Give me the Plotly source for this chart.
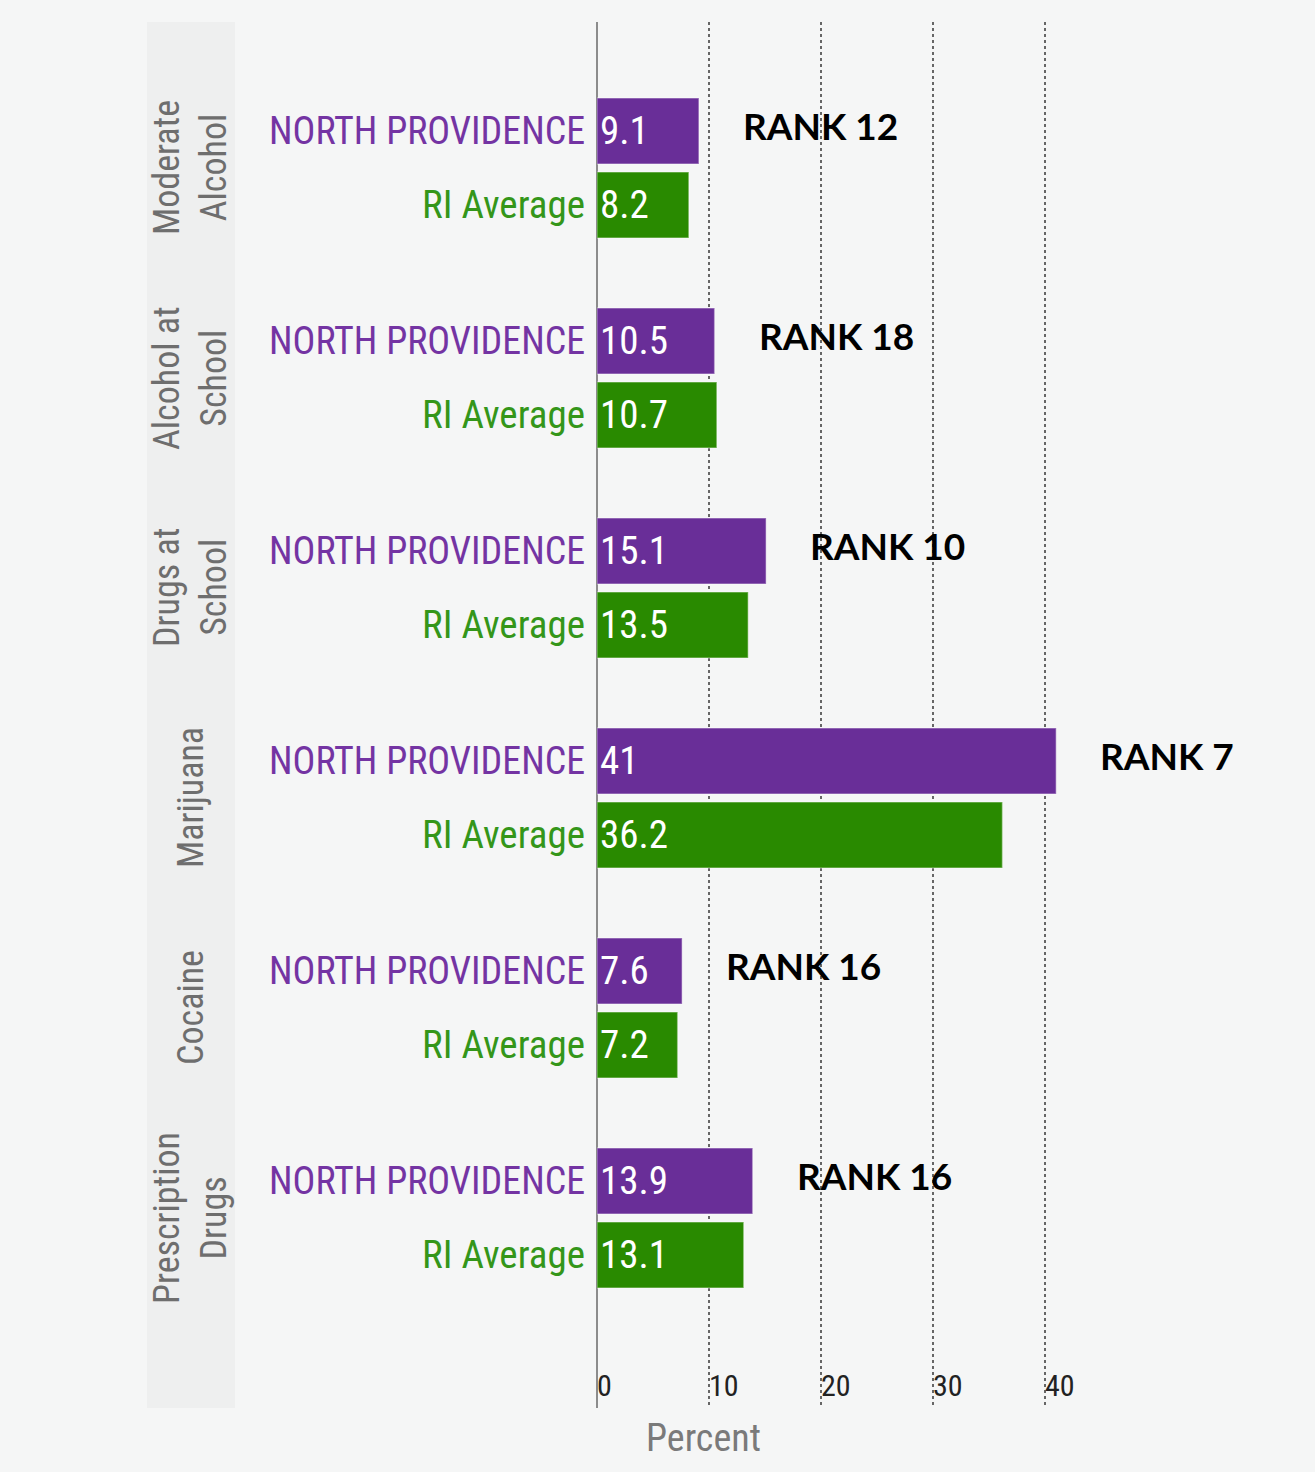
import plotly.graph_objects as go

categories = ["Moderate<br>Alcohol", "Alcohol at<br>School", "Drugs at<br>School",
              "Marijuana", "Cocaine", "Prescription<br>Drugs"]
north_providence = [9.1, 10.5, 15.1, 41, 7.6, 13.9]
ri_average = [8.2, 10.7, 13.5, 36.2, 7.2, 13.1]
ranks = [12, 18, 10, 7, 16, 16]
x_ticks = [0, 10, 20, 30, 40]
series_names = ["NORTH PROVIDENCE", "RI Average"]

PURPLE = "#692e98"
GREEN = "#298a00"
PURPLE_TXT = "#7434a3"
GREEN_TXT = "#34961a"
BG = "#f5f6f6"
NARROW = "Roboto Condensed, Liberation Sans Narrow, DejaVu Sans Condensed, Roboto, sans-serif"

ypos = list(range(len(categories)))

fig = go.Figure()
fig.add_trace(go.Bar(
    y=ypos, x=north_providence, orientation="h", name=series_names[0],
    marker=dict(color=PURPLE, line=dict(color="rgba(255,255,255,0.35)", width=1.5)),
    text=[str(v) for v in north_providence], textposition="inside",
    insidetextanchor="start", constraintext="none",
    textfont=dict(family=NARROW, size=39, color="white"),
    hoverinfo="skip",
))
fig.add_trace(go.Bar(
    y=ypos, x=ri_average, orientation="h", name=series_names[1],
    marker=dict(color=GREEN, line=dict(color="rgba(255,255,255,0.35)", width=1.5)),
    text=[str(v) for v in ri_average], textposition="inside",
    insidetextanchor="start", constraintext="none",
    textfont=dict(family=NARROW, size=39, color="white"),
    hoverinfo="skip",
))

# Left-side band for category labels
fig.add_shape(type="rect", xref="paper", yref="paper",
              x0=(147 - 597) / 672, x1=(235 - 597) / 672, y0=0, y1=1,
              fillcolor="#eeefef", line=dict(width=0), layer="below")

annotations = []
for i, cat in enumerate(categories):
    annotations.append(dict(
        x=(191 - 597) / 672, xref="paper", y=ypos[i], yref="y",
        text=cat, textangle=-90, showarrow=False, align="center",
        font=dict(family=NARROW, size=36, color="#6e6e6e"),
        xanchor="center", yanchor="middle",
    ))
    annotations.append(dict(
        x=0, xref="paper", y=ypos[i], yref="y", yshift=37, xshift=-10,
        text=series_names[0], showarrow=False, xanchor="right", yanchor="middle",
        font=dict(family=NARROW, size=38, color=PURPLE_TXT),
    ))
    annotations.append(dict(
        x=0, xref="paper", y=ypos[i], yref="y", yshift=-37, xshift=-10,
        text=series_names[1], showarrow=False, xanchor="right", yanchor="middle",
        font=dict(family=NARROW, size=39, color=GREEN_TXT),
    ))
    annotations.append(dict(
        x=north_providence[i], xref="x", y=ypos[i], yref="y", yshift=42, xshift=42,
        text=f"<b>RANK {ranks[i]}</b>", showarrow=False, xanchor="left", yanchor="middle",
        font=dict(family="Lato, Liberation Sans, sans-serif", size=37, color="#000000"),
    ))

annotations.append(dict(
    x=(703 - 597) / 672, xref="paper", y=-0.022, yref="paper",
    text="Percent", showarrow=False, xanchor="center", yanchor="middle",
    font=dict(family=NARROW, size=38, color="#7a7a7a"),
))

fig.update_layout(
    width=1315, height=1472, autosize=False,
    margin=dict(l=597, r=46, t=22, b=64),
    paper_bgcolor=BG, plot_bgcolor=BG,
    barmode="group", bargap=0.2952, bargroupgap=0.108,
    showlegend=False,
    annotations=annotations,
    xaxis=dict(
        range=[0, 60], tickvals=x_ticks, ticktext=[str(t) for t in x_ticks],
        showgrid=True, griddash="dot", gridcolor="#666666", gridwidth=2,
        zeroline=True, zerolinecolor="#8c8c8c", zerolinewidth=2,
        showline=False, ticks="",
        ticklabelposition="inside right",
        tickfont=dict(family=NARROW, size=30, color="#222222"),
    ),
    yaxis=dict(
        range=[5.905, -0.695], showticklabels=False, showgrid=False,
        zeroline=False, showline=False, ticks="",
    ),
)

fig.write_html("out.html", config={"displayModeBar": False},
               post_script="document.body.style.margin='0px';")
